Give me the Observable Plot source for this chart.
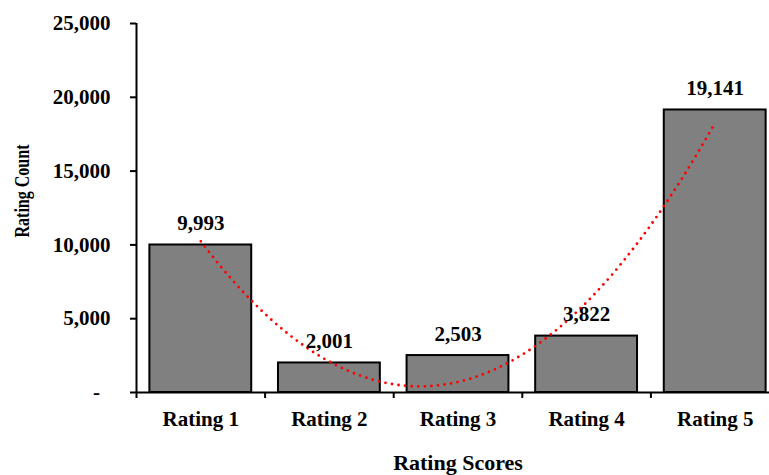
<!DOCTYPE html>
<html><head><meta charset="utf-8">
<script src="https://cdn.jsdelivr.net/npm/d3@7"></script>
<script src="https://cdn.jsdelivr.net/npm/@observablehq/plot@0.6"></script>
<style>html,body{margin:0;padding:0;background:#fff;overflow:hidden}</style>
</head><body><div id="chart"></div>
<script>
const categories = ["Rating 1", "Rating 2", "Rating 3", "Rating 4", "Rating 5"];
const counts = [9993, 2001, 2503, 3822, 19141];
const yTicks = [0, 5000, 10000, 15000, 20000, 25000];
const xTitle = "Rating Scores";
const yTitle = "Rating Count";

const data = categories.map((c, i) => ({c, i: i + 1, v: counts[i]}));
const fmt = d3.format(",");

// Polynomial (order 2) least-squares trendline computed from the bar values
function quadFit(xs, ys) {
  const S = [0, 0, 0, 0, 0], T = [0, 0, 0];
  for (let k = 0; k < xs.length; k++) {
    let p = 1;
    for (let j = 0; j < 5; j++) { S[j] += p; if (j < 3) T[j] += p * ys[k]; p *= xs[k]; }
  }
  const A = [[S[0], S[1], S[2], T[0]], [S[1], S[2], S[3], T[1]], [S[2], S[3], S[4], T[2]]];
  for (let i = 0; i < 3; i++) for (let r = i + 1; r < 3; r++) {
    const f = A[r][i] / A[i][i];
    for (let c = i; c < 4; c++) A[r][c] -= f * A[i][c];
  }
  const b = [0, 0, 0];
  for (let i = 2; i >= 0; i--) {
    let s = A[i][3];
    for (let c = i + 1; c < 3; c++) s -= A[i][c] * b[c];
    b[i] = s / A[i][i];
  }
  return b;
}
const coef = quadFit(data.map(d => d.i), counts);
const trend = d3.range(0, 201).map(k => {
  const x = 1 + k * (categories.length - 1) / 200;
  return {x, y: coef[0] + coef[1] * x + coef[2] * x * x};
});

const xDomain = [0.5, categories.length + 0.5];
const boundaries = d3.range(0, categories.length + 1).map(k => k + 0.5);
const serif = "'Liberation Serif','Times New Roman',serif";

const plot = Plot.plot({
  width: 769,
  height: 475,
  marginLeft: 136,
  marginRight: -10,
  marginTop: 23,
  marginBottom: 83,
  style: {fontFamily: serif, fontSize: "21px", fontWeight: "bold", color: "#000", background: "#fff", overflow: "hidden"},
  x: {domain: xDomain, range: [136, 779], axis: null},
  y: {domain: [yTicks[0], yTicks[yTicks.length - 1]], axis: null},
  marks: [
    Plot.rect(data, {x1: d => d.i - 0.396, x2: d => d.i + 0.396, y1: 0, y2: "v", fill: "#808080", stroke: "#000", strokeWidth: 2}),
    Plot.ruleY([0], {stroke: "#000", strokeWidth: 2}),
    Plot.ruleX([xDomain[0]], {y1: yTicks[0], y2: yTicks[yTicks.length - 1], stroke: "#000", strokeWidth: 2}),
    Plot.axisY({ticks: yTicks, tickSize: 6, tickPadding: 20, strokeWidth: 2, label: null,
      tickFormat: d => d === 0 ? "-\u00a0\u00a0" : fmt(d)}),
    Plot.axisX({ticks: boundaries, tickSize: 6, strokeWidth: 2, label: null, tickFormat: () => ""}),
    Plot.axisX({ticks: data.map(d => d.i), tickSize: 0, tickPadding: 19, label: null, tickFormat: d => categories[d - 1]}),
    Plot.line(trend, {x: "x", y: "y", stroke: "#ff0000", strokeWidth: 2.8, strokeDasharray: "0 6.6", strokeLinecap: "round"}),
    Plot.text(data, {x: "i", y: "v", text: d => fmt(d.v), lineAnchor: "bottom", dy: -15}),
    Plot.text([xTitle], {frameAnchor: "bottom", text: d => d, textAnchor: "middle", lineAnchor: "bottom", dy: 77, fontSize: 22}),
    Plot.text([yTitle], {frameAnchor: "left", text: d => d, rotate: -90, textAnchor: "middle", lineAnchor: "middle", dx: -114, dy: -17, fontSize: 20})
  ]
});
// condense the rotated title along its length, as in the reference
d3.select(plot).selectAll("text").filter(function() { return this.textContent === yTitle; })
  .attr("textLength", 93).attr("lengthAdjust", "spacingAndGlyphs");
document.getElementById("chart").append(plot);
</script>
</body></html>
